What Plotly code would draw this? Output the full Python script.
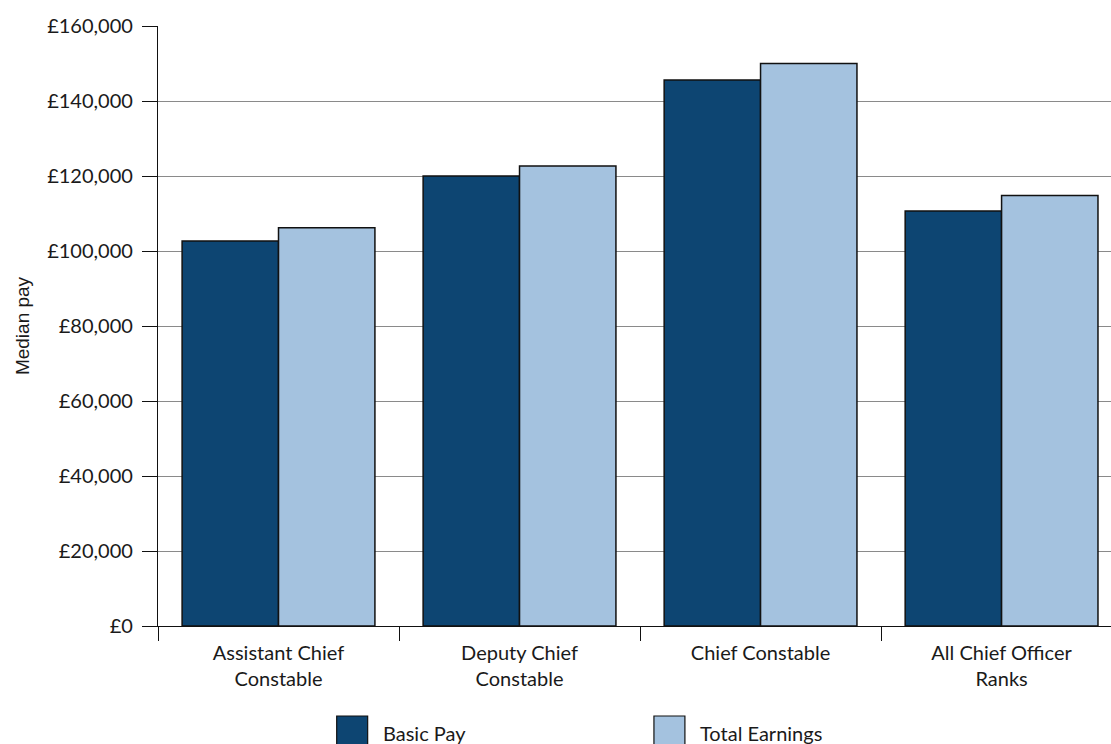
import plotly.graph_objects as go

# Median pay by chief officer rank
ranks = ["Assistant Chief<br>Constable", "Deputy Chief<br>Constable",
         "Chief Constable", "All Chief Officer<br>Ranks"]
basic_pay = [102700, 120000, 145600, 110700]
total_earnings = [106200, 122700, 150000, 114800]

y_ticks = [0, 20000, 40000, 60000, 80000, 100000, 120000, 140000, 160000]
y_tick_labels = ["£0", "£20,000", "£40,000", "£60,000", "£80,000",
                 "£100,000", "£120,000", "£140,000", "£160,000"]

series = [("Basic Pay", basic_pay, "#0d4572"),
          ("Total Earnings", total_earnings, "#a4c2df")]

FONT = "Lato, 'Open Sans', sans-serif"
TITLE_FONT = "'Liberation Sans', Arial, sans-serif"
TEXT = "#1a1a1a"

fig = go.Figure()
for name, vals, color in series:
    fig.add_trace(go.Bar(
        name=name, x=ranks, y=vals,
        marker=dict(color=color, line=dict(color="#111111", width=1.5)),
        showlegend=False,
    ))

# Legend: large swatches with labels below the plot
legend_items = [(series[0], 0.1875), (series[1], 0.5204)]
for (name, _, color), x0 in legend_items:
    fig.add_shape(type="rect", xref="paper", yref="paper",
                  x0=x0, x1=x0 + 0.0325, y0=-0.215, y1=-0.15,
                  fillcolor=color, line=dict(color="#111111", width=1.2))
    fig.add_annotation(text=name, xref="paper", yref="paper",
                       x=x0 + 0.046, y=-0.178, xanchor="left", yanchor="middle",
                       showarrow=False, font=dict(family=FONT, size=20, color=TEXT))

fig.update_layout(
    width=1111, height=744,
    margin=dict(l=158, r=0, t=26, b=118),
    paper_bgcolor="white", plot_bgcolor="white",
    barmode="group", bargap=0.2, bargroupgap=0,
    font=dict(family=FONT, size=20, color=TEXT),
    xaxis=dict(
        range=[-0.5, 3.454],
        showline=True, linecolor="#111111", linewidth=1.2,
        ticks="outside", tickson="boundaries", ticklen=14,
        tickcolor="#111111", tickwidth=1.2,
        ticklabelstandoff=9,
        showgrid=False, zeroline=False,
        tickfont=dict(family=FONT, size=20, color=TEXT),
    ),
    yaxis=dict(
        range=[0, 160000],
        tickvals=y_ticks, ticktext=y_tick_labels,
        showline=True, linecolor="#111111", linewidth=1.2,
        ticks="outside", ticklen=15, tickcolor="#111111", tickwidth=1.2,
        ticklabelstandoff=5,
        showgrid=True, gridcolor="#8a8a8a", gridwidth=1,
        zeroline=False,
        tickfont=dict(family=FONT, size=20, color=TEXT),
        title=dict(text="Median pay", standoff=12,
                   font=dict(family=TITLE_FONT, size=19, color=TEXT)),
    ),
)

fig.write_html("out.html")
